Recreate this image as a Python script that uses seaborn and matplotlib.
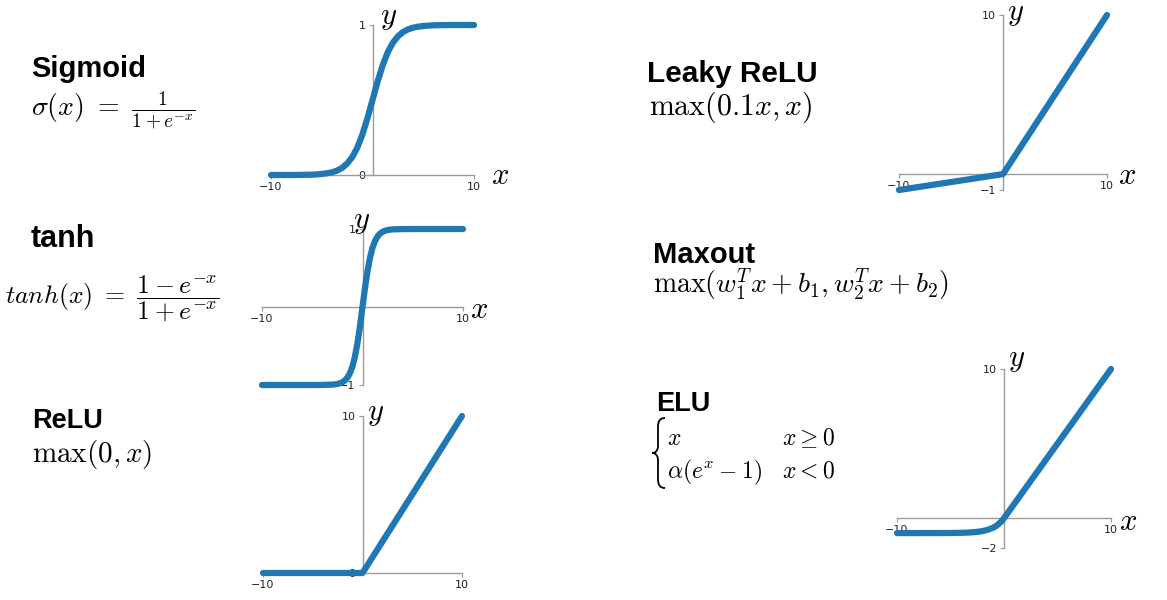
import matplotlib
matplotlib.use("Agg")
import matplotlib.pyplot as plt
import seaborn as sns
from matplotlib.path import Path
from matplotlib.patches import PathPatch

sns.set_style("ticks")
plt.rcParams["font.family"] = ["DejaVu Sans"]
plt.rcParams["mathtext.fontset"] = "cm"
plt.rcParams["text.color"] = "black"

# values
sigmoid_x = [-10, -8, -7, -6, -5.5, -5, -4.5, -4, -3.5, -3, -2.5, -2, -1.5, -1, -0.5, 0,
             0.5, 1, 1.5, 2, 2.5, 3, 3.5, 4, 4.5, 5, 5.5, 6, 7, 8, 10]
sigmoid_y = [0.000, 0.000, 0.001, 0.002, 0.004, 0.007, 0.011, 0.018, 0.029, 0.047, 0.076, 0.119,
             0.182, 0.269, 0.378, 0.500, 0.622, 0.731, 0.818, 0.881, 0.924, 0.953, 0.971, 0.982,
             0.989, 0.993, 0.996, 0.998, 0.999, 1.000, 1.000]

tanh_x = [-10, -5, -4, -3, -2.75, -2.5, -2.25, -2, -1.75, -1.5, -1.25, -1, -0.75, -0.5, -0.25, 0,
          0.25, 0.5, 0.75, 1, 1.25, 1.5, 1.75, 2, 2.25, 2.5, 2.75, 3, 4, 5, 10]
tanh_y = [-1.000, -1.000, -0.999, -0.995, -0.992, -0.987, -0.978, -0.964, -0.941, -0.905, -0.848,
          -0.762, -0.635, -0.462, -0.245, 0.000, 0.245, 0.462, 0.635, 0.762, 0.848, 0.905, 0.941,
          0.964, 0.978, 0.987, 0.992, 0.995, 0.999, 1.000, 1.000]

relu_x = [-10, 0, 10]
relu_y = [0, 0, 10]

leaky_x = [-10, 0, 10]
leaky_y = [-1, 0, 10]

elu_x = [-10, -6, -5, -4, -3.5, -3, -2.5, -2, -1.5, -1, -0.75, -0.5, -0.25, 0, 10]
elu_y = [-1.000, -0.998, -0.993, -0.982, -0.970, -0.950, -0.918, -0.865, -0.777, -0.632, -0.528,
         -0.393, -0.221, 0.000, 10.000]

W, H = 1167, 600
BLUE = "#1f77b4"
GRAY = "#9a9a9a"

fig = plt.figure(figsize=(W / 100, H / 100), dpi=100)


def fx(px):
    return px / W


def fy(py):
    return 1 - py / H


def panel(box, xs, ys, ylim):
    left, right, top, bottom = box
    ax = fig.add_axes([fx(left), fy(bottom), (right - left) / W, (bottom - top) / H])
    sns.lineplot(x=xs, y=ys, ax=ax, color=BLUE, linewidth=4.5, clip_on=False, zorder=3,
                 solid_joinstyle="round")
    ax.set_xlim(-10, 10)
    ax.set_ylim(*ylim)
    ax.set_xticks([-10, 10])
    ax.set_yticks(list(ylim))
    ax.set_xlabel("")
    ax.set_ylabel("")
    for side in ["top", "right"]:
        ax.spines[side].set_visible(False)
    ax.spines["left"].set_position(("data", 0))
    ax.spines["bottom"].set_position(("data", 0))
    for side in ["left", "bottom"]:
        ax.spines[side].set_color(GRAY)
        ax.spines[side].set_linewidth(1.0)
    ax.tick_params(length=3, width=0.8, color=GRAY, labelsize=8, labelcolor="#222222", pad=2)
    ax.patch.set_alpha(0)
    return ax


def title(x, y, s, size=21):
    fig.text(fx(x), fy(y), s, fontsize=size, fontweight="bold", family="Liberation Sans",
             ha="left", va="baseline")


def formula(x, y, s, size):
    return fig.text(fx(x), fy(y), s, fontsize=size, ha="left", va="baseline")


def axis_letter(x, y, s):
    fig.text(fx(x), fy(y), s, fontsize=22, ha="center", va="center")


# Sigmoid
panel((271, 474, 25, 175), sigmoid_x, sigmoid_y, (0, 1))
title(31, 77, "Sigmoid")
formula(31, 117, r"$\sigma(x)\ =\ \frac{1}{1+e^{-x}}$", 20)
axis_letter(389, 17, r"$y$")
axis_letter(500, 176, r"$x$")

# tanh
panel((262, 463, 229, 385), tanh_x, tanh_y, (-1, 1))
title(31, 247, "tanh", 22)
formula(5, 303, r"$tanh(x)\ =\ \dfrac{1-e^{-x}}{1+e^{-x}}$", 18.5)
axis_letter(362, 221, r"$y$")
axis_letter(479, 309, r"$x$")

# ReLU
panel((263, 462, 416, 573), relu_x, relu_y, (0, 10))
title(32, 428, "ReLU", 19.5)
formula(32, 462, r"$\max(0, x)$", 21)
axis_letter(376, 414, r"$y$")

# Leaky ReLU
panel((899, 1107, 15, 190), leaky_x, leaky_y, (-1, 10))
title(647, 82, "Leaky ReLU", 21.5)
formula(649, 115, r"$\max(0.1x, x)$", 21.5)
axis_letter(1016, 14, r"$y$")
axis_letter(1127, 176, r"$x$")

# Maxout
title(653, 263, "Maxout", 21)
formula(653, 293, r"$\max(w_1^Tx+b_1, w_2^Tx+b_2)$", 20)

# ELU
panel((897, 1111, 369, 548), elu_x, elu_y, (-2, 10))
title(656, 411, "ELU", 19.5)
# curly brace of the cases block
brace_pts = [(665, 418), (660, 418), (658, 421), (658, 427), (658, 446),
             (658, 450), (656, 453), (652, 453),
             (656, 453), (658, 456), (658, 460), (658, 479),
             (658, 485), (660, 488), (665, 488)]
brace_codes = [Path.MOVETO, Path.CURVE4, Path.CURVE4, Path.CURVE4, Path.LINETO,
               Path.CURVE4, Path.CURVE4, Path.CURVE4,
               Path.CURVE4, Path.CURVE4, Path.CURVE4, Path.LINETO,
               Path.CURVE4, Path.CURVE4, Path.CURVE4]
brace = Path([(fx(a), fy(b)) for a, b in brace_pts], brace_codes)
fig.add_artist(PathPatch(brace, transform=fig.transFigure, fill=False, edgecolor="black", linewidth=1.3))
formula(667, 445, r"$x$", 17)
formula(782, 445, r"$x \geq 0$", 17)
formula(667, 478, r"$\alpha(e^x - 1)$", 17)
formula(782, 478, r"$x < 0$", 17)
axis_letter(1017, 360, r"$y$")
axis_letter(1128, 521, r"$x$")

fig.savefig("out.png", dpi=100, facecolor="white")
